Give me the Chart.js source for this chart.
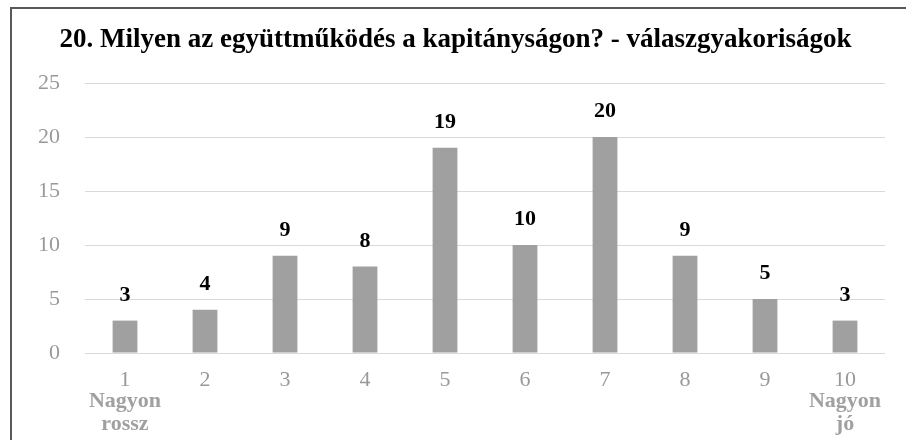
<!DOCTYPE html>
<html>
<head>
<meta charset="utf-8">
<script src="https://cdn.jsdelivr.net/npm/chart.js@4.4.1/dist/chart.umd.min.js"></script>
<style>
  html, body { margin: 0; padding: 0; background: #fff; }
  canvas { display: block; }
</style>
</head>
<body>
<canvas id="grafico" width="906" height="440"></canvas>
<script>
const cimke = ['1', '2', '3', '4', '5', '6', '7', '8', '9', '10'];
const alcimke = [['Nagyon', 'rossz'], [], [], [], [], [], [], [], [], ['Nagyon', 'jó']];
const ertekek = [3, 4, 9, 8, 19, 10, 20, 9, 5, 3];
const yTickek = [0, 5, 10, 15, 20, 25];
const cim = '20. Milyen az együttműködés a kapitányságon? - válaszgyakoriságok';

const betu = '"Liberation Serif", "Times New Roman", serif';

// keret (csak bal és felső látszik)
const keret = {
  id: 'keret',
  beforeDraw(chart) {
    const ctx = chart.ctx;
    ctx.save();
    ctx.fillStyle = '#fff';
    ctx.fillRect(0, 0, chart.width, chart.height);
    ctx.fillStyle = '#595959';
    ctx.fillRect(10, 7, chart.width, 2);
    ctx.fillRect(10, 7, 2, chart.height);
    ctx.restore();
  }
};

// értékek az oszlopok fölött
const felirat = {
  id: 'felirat',
  afterDatasetsDraw(chart) {
    const ctx = chart.ctx;
    const meta = chart.getDatasetMeta(0);
    ctx.save();
    ctx.font = 'bold 22px ' + betu;
    ctx.fillStyle = '#000';
    ctx.textAlign = 'center';
    ctx.textBaseline = 'alphabetic';
    meta.data.forEach((bar, i) => {
      ctx.fillText(String(ertekek[i]), bar.x, bar.y - 20);
    });
    ctx.restore();
  }
};

// "Nagyon rossz" / "Nagyon jó" sorok
const alsor = {
  id: 'alsor',
  afterDraw(chart) {
    const ctx = chart.ctx;
    const x = chart.scales.x;
    ctx.save();
    ctx.font = 'bold 22px ' + betu;
    ctx.fillStyle = '#a0a0a0';
    ctx.textAlign = 'center';
    ctx.textBaseline = 'alphabetic';
    alcimke.forEach((sorok, i) => {
      sorok.forEach((s, j) => {
        ctx.fillText(s, x.getPixelForTick(i), 407 + j * 23);
      });
    });
    ctx.restore();
  }
};

new Chart(document.getElementById('grafico'), {
  type: 'bar',
  data: {
    labels: cimke,
    datasets: [{
      label: 'Válaszok',
      data: ertekek,
      backgroundColor: '#a0a0a0',
      borderWidth: 0,
      categoryPercentage: 1,
      barPercentage: 0.31
    }]
  },
  options: {
    responsive: false,
    animation: false,
    devicePixelRatio: 1,
    layout: { padding: { left: 26, right: 21, top: 0, bottom: 0 } },
    plugins: {
      legend: { display: false },
      tooltip: { enabled: false },
      title: {
        display: true,
        text: cim,
        color: '#000',
        font: { family: betu, size: 27, weight: 'bold', lineHeight: 1.2 },
        padding: { top: 24, bottom: 26.6 }
      }
    },
    scales: {
      x: {
        grid: { display: false },
        border: { display: false },
        ticks: {
          color: '#999',
          font: { family: betu, size: 22 },
          padding: 6,
          maxRotation: 0
        },
        afterFit(scale) { scale.height = 87; }
      },
      y: {
        min: 0,
        max: 25,
        afterBuildTicks(scale) { scale.ticks = yTickek.map(v => ({ value: v })); },
        grid: { color: '#d9d9d9', lineWidth: 1, drawTicks: false },
        border: { display: false },
        ticks: {
          color: '#999',
          font: { family: betu, size: 22 },
          padding: 25
        },
        afterFit(scale) { scale.width = 59; }
      }
    }
  },
  plugins: [keret, felirat, alsor]
});
</script>
</body>
</html>
